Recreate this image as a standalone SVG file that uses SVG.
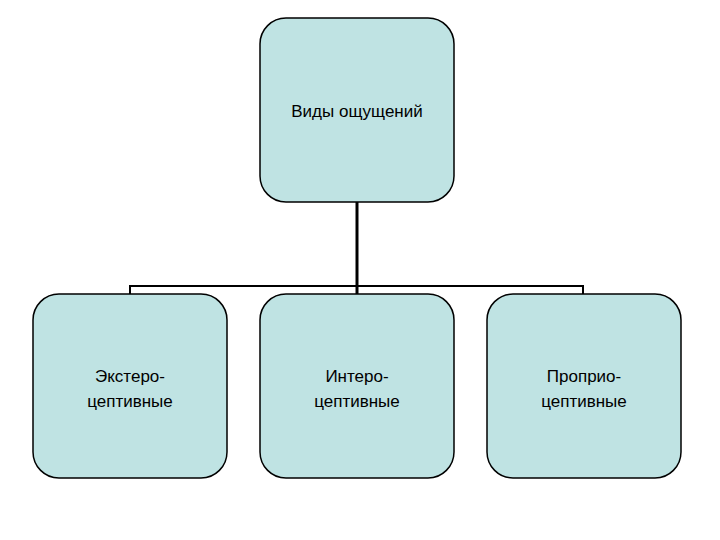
<svg xmlns="http://www.w3.org/2000/svg" width="720" height="540" viewBox="0 0 720 540">
<style>
.n{fill:#bfe3e3;stroke:#000;stroke-width:1.5}
.t{font-family:"Liberation Sans",Arial,sans-serif;font-size:17px;text-anchor:middle;fill:#000}
.c{stroke:#000;fill:none}
</style>
<rect width="720" height="540" fill="#fff"/>
<g id="connectors">
<path class="c" stroke-width="3" d="M357,202V294"/>
<path class="c" stroke-width="2" d="M130,294V286H583V294"/>
</g>
<g id="root"><rect class="n" x="260" y="18" width="194" height="184" rx="26"/><text class="t" x="357" y="117">Виды ощущений</text></g>
<g id="ext"><rect class="n" x="33" y="294" width="194" height="184" rx="26"/><text class="t" x="130" y="382">Экстеро-</text><text class="t" x="130" y="407">цептивные</text></g>
<g id="int"><rect class="n" x="260" y="294" width="194" height="184" rx="26"/><text class="t" x="357" y="382">Интеро-</text><text class="t" x="357" y="407">цептивные</text></g>
<g id="prop"><rect class="n" x="487" y="294" width="194" height="184" rx="26"/><text class="t" x="584" y="382">Проприо-</text><text class="t" x="584" y="407">цептивные</text></g>
</svg>
